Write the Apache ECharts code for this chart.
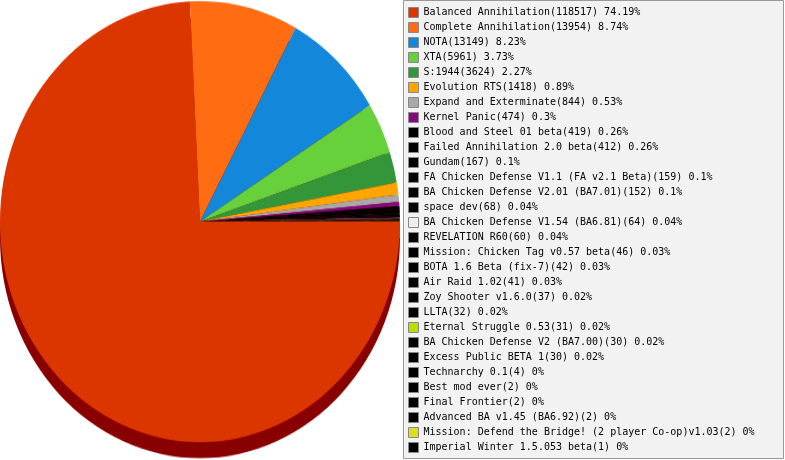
<!DOCTYPE html>
<html>
<head>
<meta charset="utf-8">
<title>Mod usage</title>
<script src="https://cdn.jsdelivr.net/npm/echarts@6/dist/echarts.min.js"></script>
<style>
    html, body { margin: 0; padding: 0; background: #fff; overflow: hidden; }
    #pie { position: absolute; left: 0; top: 0; width: 402px; height: 418px;
           transform: scaleY(1.1025); transform-origin: 0 0; }
    #legend { position: absolute; left: 403px; top: 0; width: 382px; height: 460px; }
</style>
</head>
<body>
<div id="pie"></div>
<div id="legend"></div>
<script type="text/javascript">
    var mods = ["Balanced Annihilation", "Complete Annihilation", "NOTA", "XTA", "S:1944",
        "Evolution RTS", "Expand and Exterminate", "Kernel Panic", "Blood and Steel 01 beta",
        "Failed Annihilation 2.0 beta", "Gundam", "FA Chicken Defense V1.1 (FA v2.1 Beta)",
        "BA Chicken Defense V2.01 (BA7.01)", "space dev", "BA Chicken Defense V1.54 (BA6.81)",
        "REVELATION R60", "Mission: Chicken Tag v0.57 beta", "BOTA 1.6 Beta (fix-7)",
        "Air Raid 1.02", "Zoy Shooter v1.6.0", "LLTA", "Eternal Struggle 0.53",
        "BA Chicken Defense V2 (BA7.00)", "Excess Public BETA 1", "Technarchy 0.1",
        "Best mod ever", "Final Frontier", "Advanced BA v1.45 (BA6.92)",
        "Mission: Defend the Bridge! (2 player Co-op)v1.03", "Imperial Winter 1.5.053 beta"];
    var games = [118517, 13954, 13149, 5961, 3624, 1418, 844, 474, 419, 412, 167, 159, 152,
        68, 64, 60, 46, 42, 41, 37, 32, 31, 30, 30, 4, 2, 2, 2, 2, 1];
    var percents = ["74.19", "8.74", "8.23", "3.73", "2.27", "0.89", "0.53", "0.3", "0.26",
        "0.26", "0.1", "0.1", "0.1", "0.04", "0.04", "0.04", "0.03", "0.03", "0.03", "0.02",
        "0.02", "0.02", "0.02", "0.02", "0", "0", "0", "0", "0", "0"];
    var colors = ["#dc3600", "#ff6c12", "#1387d9", "#66d13a", "#33973a", "#ffa500", "#a8a8a8",
        "#87087f", "#000000", "#000000", "#000000", "#000000", "#000000", "#000000", "#eeeeee",
        "#000000", "#000000", "#000000", "#000000", "#000000", "#000000", "#bbdd00", "#000000",
        "#000000", "#000000", "#000000", "#000000", "#000000", "#dddd22", "#000000"];

    var data = [];
    for (var i = 0; i < mods.length; ++i) {
        data.push({ name: mods[i], value: games[i], itemStyle: { color: colors[i] } });
    }
    var lookup = {};
    for (var j = 0; j < mods.length; ++j) {
        lookup[mods[j]] = mods[j] + "(" + games[j] + ") " + percents[j] + "%";
    }

    // pie: circle stretched a bit vertically by css to get the oval look
    var pieChart = echarts.init(document.getElementById('pie'));
    pieChart.setOption({
        animation: false,
        series: [{
            // dark rim under the top face
            type: 'pie',
            center: [200, 215.5],
            radius: 200,
            startAngle: 0,
            clockwise: true,
            silent: true,
            label: { show: false },
            labelLine: { show: false },
            itemStyle: { color: '#880000', borderWidth: 0 },
            data: games
        }, {
            type: 'pie',
            center: [200, 201],
            radius: 200,
            startAngle: 0,
            clockwise: true,
            label: { show: false },
            labelLine: { show: false },
            emphasis: { scale: false },
            itemStyle: { borderWidth: 0 },
            data: data
        }]
    });

    var legendChart = echarts.init(document.getElementById('legend'));
    legendChart.setOption({
        animation: false,
        graphic: [{
            type: 'rect',
            shape: { x: 0.5, y: 0.5, width: 380, height: 458 },
            style: { fill: '#f2f2f2', stroke: '#999999', lineWidth: 1 },
            z: -10
        }],
        legend: {
            orient: 'vertical',
            left: 5,
            top: 7,
            height: 453,
            padding: 0,
            itemGap: 4,
            itemWidth: 10,
            itemHeight: 10,
            icon: 'rect',
            itemStyle: { borderColor: '#888888', borderWidth: 1 },
            textStyle: { fontFamily: 'DejaVu Sans Mono', fontSize: 10, color: '#000' },
            formatter: function (name) { return lookup[name]; },
            data: mods
        },
        series: [{
            type: 'pie',
            center: [-50, -50],
            radius: 1,
            silent: true,
            label: { show: false },
            labelLine: { show: false },
            data: data
        }]
    });
</script>
</body>
</html>
